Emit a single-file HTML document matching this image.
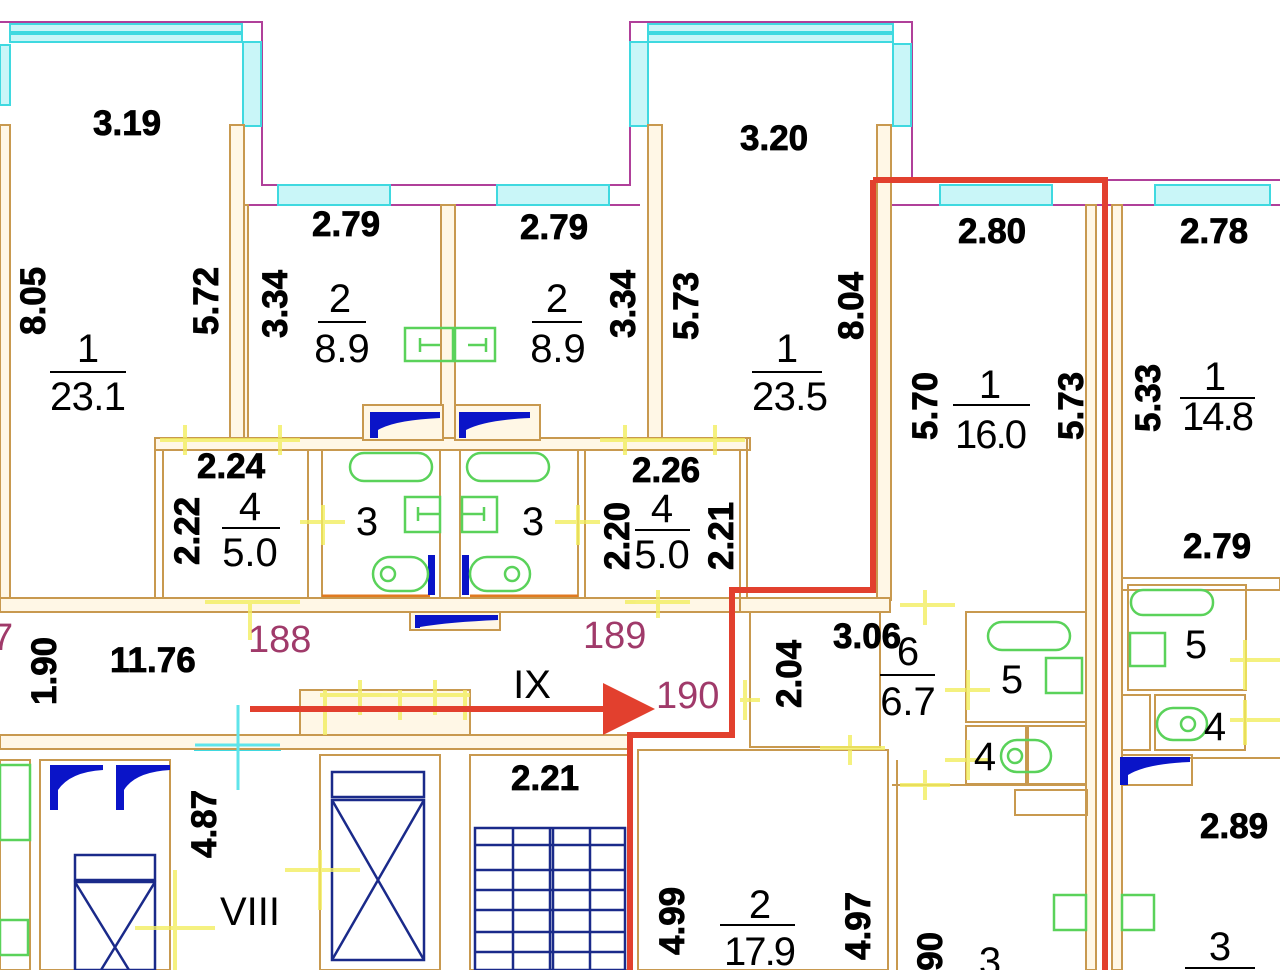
<!DOCTYPE html>
<html><head><meta charset="utf-8"><style>
html,body{margin:0;padding:0;background:#fff;width:1280px;height:970px;overflow:hidden}
svg{display:block;overflow:hidden}
.w{fill:#fff7e6;stroke:#c8994f;stroke-width:2}
.l{fill:none;stroke:#c8994f;stroke-width:2}
.m{fill:none;stroke:#b0409a;stroke-width:2}
.win{fill:#c9f6f8;stroke:#3fd9e0;stroke-width:2}
.g{fill:none;stroke:#5ad25a;stroke-width:2.5}
.y{stroke:#f2ee60;stroke-width:4;fill:none;opacity:.8}
.b{font-family:"Liberation Sans",sans-serif;font-weight:bold;font-size:35px;fill:#000;stroke:#000;stroke-width:0.8}
.n{font-family:"Liberation Sans",sans-serif;font-size:40px;fill:#000}
.p{font-family:"Liberation Sans",sans-serif;font-size:38px;fill:#a03a6a}
.bl{fill:none;stroke:#1a2a8a;stroke-width:2.5}
</style></head><body>
<svg width="1280" height="970" viewBox="0 0 1280 970" xmlns="http://www.w3.org/2000/svg">
<rect width="1280" height="970" fill="#fff"/>
<path class="m" d="M0 22 H262 V185 H630 V22 H912 V180 H1280"/>
<path class="m" d="M0 125 H10 M245 205 H640 M892 205 H1280"/>
<rect class="win" x="10" y="24" width="232" height="18"/>
<line x1="10" y1="33" x2="242" y2="33" stroke="#3fd9e0" stroke-width="4"/>
<rect class="win" x="243" y="42" width="18" height="84"/>
<rect class="win" x="0" y="45" width="10" height="60"/>
<rect class="win" x="648" y="24" width="245" height="18"/>
<line x1="648" y1="33" x2="893" y2="33" stroke="#3fd9e0" stroke-width="4"/>
<rect class="win" x="630" y="42" width="18" height="84"/>
<rect class="win" x="893" y="44" width="18" height="82"/>
<rect class="win" x="278" y="185" width="112" height="20"/>
<rect class="win" x="497" y="185" width="112" height="20"/>
<rect class="win" x="940" y="185" width="112" height="20"/>
<rect class="win" x="1155" y="185" width="115" height="20"/>
<rect class="win" x="195" y="740" width="85" height="10"/>
<rect class="w" x="0" y="125" width="10" height="475"/>
<rect class="w" x="230" y="125" width="14" height="315"/>
<rect class="w" x="244" y="205" width="4" height="235"/>
<rect class="w" x="441" y="205" width="14" height="235"/>
<rect class="w" x="648" y="125" width="14" height="315"/>
<rect class="w" x="877" y="125" width="14" height="475"/>
<rect class="w" x="1086" y="205" width="10" height="765"/>
<rect class="w" x="1112" y="205" width="10" height="765"/>
<rect class="w" x="155" y="438" width="595" height="12"/>
<rect class="l" x="163" y="450" width="145" height="148"/>
<rect class="l" x="322" y="450" width="118" height="148"/>
<rect class="l" x="460" y="450" width="118" height="148"/>
<rect class="l" x="585" y="450" width="155" height="148"/>
<line x1="155" y1="438" x2="155" y2="600" stroke="#c8994f" stroke-width="2"/>
<line x1="747" y1="438" x2="747" y2="600" stroke="#c8994f" stroke-width="2"/>
<line x1="322" y1="596" x2="430" y2="596" stroke="#e07a20" stroke-width="3"/>
<line x1="470" y1="596" x2="578" y2="596" stroke="#e07a20" stroke-width="3"/>
<rect class="w" x="363" y="405" width="80" height="35"/>
<rect class="w" x="455" y="405" width="85" height="35"/>
<rect class="w" x="0" y="598" width="740" height="14"/>
<rect class="w" x="410" y="612" width="90" height="18"/>
<rect class="w" x="0" y="735" width="628" height="14"/>
<rect class="w" x="300" y="690" width="170" height="45"/>
<rect class="w" x="740" y="598" width="150" height="14"/>
<rect class="l" x="750" y="612" width="130" height="135"/>
<rect class="l" x="638" y="750" width="250" height="220"/>
<rect class="l" x="966" y="612" width="120" height="110"/>
<rect class="l" x="966" y="726" width="60" height="58"/>
<rect class="l" x="1028" y="726" width="58" height="58"/>
<rect class="l" x="1015" y="790" width="72" height="25"/>
<line x1="892" y1="785" x2="1086" y2="785" stroke="#c8994f" stroke-width="2"/>
<line x1="897" y1="760" x2="897" y2="970" stroke="#c8994f" stroke-width="2"/>
<rect class="l" x="1122" y="578" width="158" height="12"/>
<rect class="l" x="1128" y="585" width="118" height="105"/>
<rect class="l" x="1122" y="695" width="28" height="55"/>
<rect class="l" x="1155" y="695" width="90" height="55"/>
<rect class="l" x="1122" y="755" width="70" height="30"/>
<line x1="1122" y1="758" x2="1280" y2="758" stroke="#c8994f" stroke-width="2"/>
<rect class="l" x="40" y="760" width="130" height="210"/>
<rect class="l" x="320" y="755" width="120" height="215"/>
<rect class="l" x="470" y="755" width="160" height="215"/>
<rect class="l" x="0" y="760" width="30" height="210"/>
<rect class="bl" x="332" y="772" width="92" height="25"/>
<rect class="bl" x="332" y="800" width="92" height="160"/>
<path class="bl" d="M332 800 L424 960 M424 800 L332 960"/>
<rect class="bl" x="75" y="855" width="80" height="25"/>
<rect class="bl" x="75" y="882" width="80" height="88"/>
<path class="bl" d="M75 882 L129 970 M155 882 L101 970"/>
<g stroke="#1a2a8a" stroke-width="2.5" fill="none">
<rect x="475" y="828" width="150" height="142"/>
<line x1="550" y1="828" x2="550" y2="970"/><line x1="553" y1="828" x2="553" y2="970"/>
<line x1="513" y1="828" x2="513" y2="970"/><line x1="590" y1="828" x2="590" y2="970"/>
<line x1="475" y1="845" x2="625" y2="845"/><line x1="475" y1="870" x2="625" y2="870"/>
<line x1="475" y1="890" x2="625" y2="890"/><line x1="475" y1="910" x2="625" y2="910"/>
<line x1="475" y1="932" x2="625" y2="932"/><line x1="475" y1="952" x2="625" y2="952"/>
</g>
<g fill="#0a14c8">
<path d="M50 765 H103 V770 Q70 772 58 790 V810 H50Z"/>
<path d="M116 765 H170 V770 Q135 772 124 790 V810 H116Z"/>
<path d="M370 412 H440 V418 Q395 420 378 430 V438 H370Z"/>
<path d="M459 412 H530 V418 Q485 420 466 430 V438 H459Z"/>
<path d="M415 615 H498 V620 Q450 622 420 627 V628 H415Z"/>
<path d="M1120 757 H1190 V762 Q1145 764 1128 775 V785 H1120Z"/>
<path d="M428 555 H435 V595 H428Z"/><path d="M462 555 H469 V595 H462Z"/>
</g>
<rect class="g" x="405" y="328" width="48" height="33"/><rect class="g" x="455" y="328" width="40" height="33"/>
<path class="g" d="M420 345 H440 M420 338 V352 M468 345 H486 M486 338 V352"/>
<rect class="g" x="350" y="453" width="82" height="28" rx="14"/>
<rect class="g" x="467" y="453" width="82" height="28" rx="14"/>
<rect class="g" x="405" y="497" width="35" height="35"/><rect class="g" x="462" y="497" width="35" height="35"/>
<path class="g" d="M418 514 H440 M418 507 V521 M462 514 H484 M484 507 V521"/>
<rect class="g" x="373" y="557" width="55" height="34" rx="17"/><rect class="g" x="470" y="557" width="60" height="34" rx="17"/>
<circle class="g" cx="388" cy="574" r="7"/><circle class="g" cx="512" cy="574" r="7"/>
<rect class="g" x="988" y="622" width="82" height="28" rx="14"/>
<rect class="g" x="1046" y="658" width="36" height="35"/>
<rect class="g" x="1001" y="740" width="50" height="32" rx="16"/><circle class="g" cx="1015" cy="756" r="7"/>
<rect class="g" x="1131" y="590" width="82" height="25" rx="12"/>
<rect class="g" x="1130" y="633" width="35" height="33"/>
<rect class="g" x="1157" y="708" width="50" height="32" rx="16"/><circle class="g" cx="1188" cy="724" r="7"/>
<rect class="g" x="1054" y="895" width="32" height="35"/><rect class="g" x="1122" y="895" width="32" height="35"/>
<rect class="g" x="0" y="765" width="30" height="75"/><rect class="g" x="0" y="920" width="28" height="35"/>
<g class="y">
<path d="M160 440 H300 M185 425 V455 M280 425 V455"/>
<path d="M600 440 H745 M625 425 V455 M715 425 V455"/>
<path d="M300 522 H345 M323 505 V545"/><path d="M555 522 H600 M578 505 V545"/>
<path d="M205 602 H300 M250 600 V640"/><path d="M625 602 H690 M658 590 V618"/>
<path d="M900 605 H955 M925 590 V625"/><path d="M820 748 H885 M850 735 V765"/>
<path d="M945 690 H990 M968 670 V710"/><path d="M945 760 H990 M968 740 V780"/><path d="M900 785 H950 M925 770 V800"/>
<path d="M740 700 H760 M745 680 V720"/>
<path d="M325 690 V735 M360 680 V715 M400 690 V720 M435 680 V715 M465 690 V720 M320 695 H470"/>
<path d="M1230 660 H1280 M1245 640 V690"/><path d="M1230 720 H1280 M1245 700 V745"/>
<path d="M135 928 H215 M175 870 V970"/><path d="M285 870 H360 M320 850 V910"/>
</g>
<path d="M195 745 H280 M238 705 V790" stroke="#5fe4ea" stroke-width="3"/>
<path d="M873 180 H1105 V970" fill="none" stroke="#e2402e" stroke-width="6"/>
<path d="M873 180 V590 H732 V735 H630 V970" fill="none" stroke="#e2402e" stroke-width="6"/>
<line x1="250" y1="709" x2="615" y2="709" stroke="#e2402e" stroke-width="6"/>
<path d="M603 683 L655 709 L603 735Z" fill="#e2402e"/>
<text class="b" x="93" y="135">3.19</text>
<text class="b" x="740" y="150">3.20</text>
<text class="b" x="312" y="236">2.79</text>
<text class="b" x="520" y="239">2.79</text>
<text class="b" x="958" y="243">2.80</text>
<text class="b" x="1180" y="243">2.78</text>
<text class="b" x="197" y="478">2.24</text>
<text class="b" x="632" y="482">2.26</text>
<text class="b" x="833" y="648">3.06</text>
<text class="b" x="1183" y="558">2.79</text>
<text class="b" x="110" y="672">11.76</text>
<text class="b" x="511" y="790">2.21</text>
<text class="b" x="1200" y="838">2.89</text>
<g class="b">
<text transform="translate(45,335) rotate(-90)">8.05</text>
<text transform="translate(218,335) rotate(-90)">5.72</text>
<text transform="translate(287,338) rotate(-90)">3.34</text>
<text transform="translate(635,338) rotate(-90)">3.34</text>
<text transform="translate(698,340) rotate(-90)">5.73</text>
<text transform="translate(863,340) rotate(-90)">8.04</text>
<text transform="translate(937,440) rotate(-90)">5.70</text>
<text transform="translate(1083,440) rotate(-90)">5.73</text>
<text transform="translate(1160,432) rotate(-90)">5.33</text>
<text transform="translate(199,565) rotate(-90)">2.22</text>
<text transform="translate(629,570) rotate(-90)">2.20</text>
<text transform="translate(733,570) rotate(-90)">2.21</text>
<text transform="translate(56,705) rotate(-90)">1.90</text>
<text transform="translate(801,708) rotate(-90)">2.04</text>
<text transform="translate(216,858) rotate(-90)">4.87</text>
<text transform="translate(684,955) rotate(-90)">4.99</text>
<text transform="translate(870,960) rotate(-90)">4.97</text>
<text transform="translate(942,1000) rotate(-90)">5.90</text>
</g>
<g class="n" text-anchor="middle">
<text x="88" y="362">1</text><line x1="50" y1="372" x2="126" y2="372" stroke="#000" stroke-width="2"/><text x="88" y="410" textLength="76">23.1</text>
<text x="340" y="312">2</text><line x1="318" y1="322" x2="366" y2="322" stroke="#000" stroke-width="2"/><text x="342" y="362">8.9</text>
<text x="557" y="312">2</text><line x1="532" y1="322" x2="582" y2="322" stroke="#000" stroke-width="2"/><text x="558" y="362">8.9</text>
<text x="787" y="362">1</text><line x1="752" y1="372" x2="822" y2="372" stroke="#000" stroke-width="2"/><text x="790" y="410" textLength="76">23.5</text>
<text x="990" y="398">1</text><line x1="953" y1="405" x2="1030" y2="405" stroke="#000" stroke-width="2"/><text x="991" y="448" textLength="72">16.0</text>
<text x="1215" y="390">1</text><line x1="1180" y1="398" x2="1255" y2="398" stroke="#000" stroke-width="2"/><text x="1218" y="430" textLength="72">14.8</text>
<text x="250" y="520">4</text><line x1="222" y1="528" x2="280" y2="528" stroke="#000" stroke-width="2"/><text x="250" y="566">5.0</text>
<text x="662" y="522">4</text><line x1="635" y1="530" x2="690" y2="530" stroke="#000" stroke-width="2"/><text x="662" y="568">5.0</text>
<text x="908" y="665">6</text><line x1="880" y1="675" x2="935" y2="675" stroke="#000" stroke-width="2"/><text x="908" y="715">6.7</text>
<text x="760" y="918">2</text><line x1="720" y1="925" x2="795" y2="925" stroke="#000" stroke-width="2"/><text x="760" y="965" textLength="72">17.9</text>
<text x="1220" y="960">3</text><line x1="1185" y1="968" x2="1255" y2="968" stroke="#000" stroke-width="2"/>
<text x="367" y="535">3</text><text x="533" y="535">3</text>
<text x="1012" y="693">5</text><text x="1196" y="658">5</text>
<text x="985" y="770">4</text><text x="1215" y="740">4</text>
<text x="990" y="975">3</text>
<text x="532" y="698">IX</text><text x="250" y="925">VIII</text>
</g>
<text class="p" x="248" y="652">188</text>
<text class="p" x="583" y="648">189</text>
<text class="p" x="656" y="708">190</text>
<text class="p" x="-8" y="650">7</text>
</svg>
</body></html>
